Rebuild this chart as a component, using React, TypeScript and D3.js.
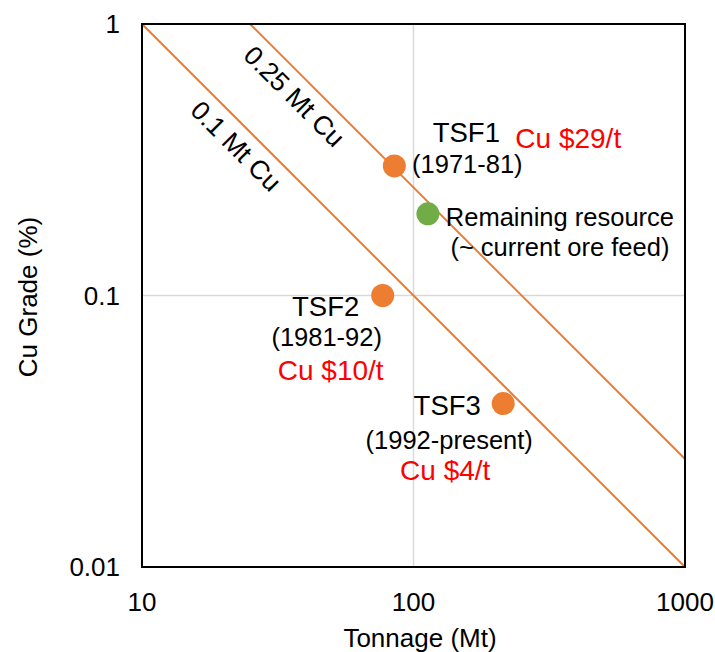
import React from "react";
import * as d3 from "d3";

const tsfNames = ["TSF1", "TSF2", "TSF3"];
const tsfTonnage = [85, 77, 214];
const tsfGrade = [0.3, 0.1, 0.04];
const tsfYears = ["(1971-81)", "(1981-92)", "(1992-present)"];
const tsfPrice = ["Cu $29/t", "Cu $10/t", "Cu $4/t"];

const remainingTonnage = [113];
const remainingGrade = [0.2];
const remainingLabel = ["Remaining resource", "(~ current ore feed)"];

const containedMtCu = [0.25, 0.1];
const containedLabels = ["0.25 Mt Cu", "0.1 Mt Cu"];
// tonnage (Mt) along each line where its label sits
const containedLabelTonnage = [41, 25];

const xTicks = [10, 100, 1000];
const yTicks = [0.01, 0.1, 1];
const xTickLabels = ["10", "100", "1000"];
const yTickLabels = ["0.01", "0.1", "1"];

const W = 715;
const H = 652;
const L = 142, R = 685, T = 24, B = 567;
const ORANGE = "#ED7D31";
const GREEN = "#70AD47";
const FONT = "'Liberation Sans', Arial, sans-serif";

// label layout (offsets from marker position)
const tsfLayout = [
  { name: [72, -24, "middle"], years: [73, 7, "middle"], price: [121, -18, "start"] },
  { name: [-57, 20, "middle"], years: [-56, 50, "middle"], price: [-52, 84, "middle"] },
  { name: [-56, 11, "middle"], years: [-54, 45, "middle"], price: [-58, 76, "middle"] },
];

export default function App() {
  const x = d3.scaleLog().domain([10, 1000]).range([L, R]);
  const y = d3.scaleLog().domain([0.01, 1]).range([B, T]);

  const line = d3
    .line<[number, number]>()
    .x((d) => x(d[0]))
    .y((d) => y(d[1]));

  return (
    <div style={{ position: "absolute", left: 0, top: 0 }}>
      <svg width={W} height={H} style={{ display: "block", fontFamily: FONT }}>
        <defs>
          <clipPath id="plotclip">
            <rect x={L} y={T} width={R - L} height={B - T} />
          </clipPath>
        </defs>
        <rect x={0} y={0} width={W} height={H} fill="#fff" />
        {/* gridlines */}
        <line x1={x(100)} x2={x(100)} y1={T} y2={B} stroke="#D9D9D9" strokeWidth={1.5} />
        <line x1={L} x2={R} y1={y(0.1)} y2={y(0.1)} stroke="#D9D9D9" strokeWidth={1.5} />
        {/* contained metal lines */}
        <g clipPath="url(#plotclip)">
          {containedMtCu.map((c) => {
            const t0 = c * 100; // tonnage at 1% grade
            const pts: [number, number][] = [
              [t0, 1],
              [1000, (c * 100) / 1000],
            ];
            return (
              <path key={c} d={line(pts) || ""} fill="none" stroke={ORANGE} strokeWidth={2} />
            );
          })}
        </g>
        {/* frame */}
        <rect x={L} y={T} width={R - L} height={B - T} fill="none" stroke="#000" strokeWidth={2} />
        {/* contained labels */}
        {containedMtCu.map((c, i) => {
          const tMid = containedLabelTonnage[i];
          const gMid = (c * 100) / tMid;
          const px = x(tMid);
          const py = y(gMid);
          const off = 20;
          const cx = px - off / Math.SQRT2;
          const cy = py + off / Math.SQRT2;
          return (
            <text
              key={c}
              x={0}
              y={0}
              transform={`translate(${cx},${cy}) rotate(45)`}
              textAnchor="middle"
              dominantBaseline="central"
              fontSize={26.5}
              fill="#000"
            >
              {containedLabels[i]}
            </text>
          );
        })}
        {/* markers */}
        {tsfNames.map((n, i) => (
          <circle key={n} cx={x(tsfTonnage[i])} cy={y(tsfGrade[i])} r={11.5} fill={ORANGE} />
        ))}
        {remainingTonnage.map((t, i) => (
          <circle key={"r" + i} cx={x(t)} cy={y(remainingGrade[i])} r={11.5} fill={GREEN} />
        ))}
        {/* tsf labels */}
        {tsfNames.map((n, i) => {
          const px = x(tsfTonnage[i]);
          const py = y(tsfGrade[i]);
          const lay = tsfLayout[i];
          return (
            <g key={"l" + n}>
              <text x={px + (lay.name[0] as number)} y={py + (lay.name[1] as number)} textAnchor={lay.name[2] as any} fontSize={27.5} fill="#000">
                {n}
              </text>
              <text x={px + (lay.years[0] as number)} y={py + (lay.years[1] as number)} textAnchor={lay.years[2] as any} fontSize={25.5} fill="#000">
                {tsfYears[i]}
              </text>
              <text x={px + (lay.price[0] as number)} y={py + (lay.price[1] as number)} textAnchor={lay.price[2] as any} fontSize={28} fill="#FF0000">
                {tsfPrice[i]}
              </text>
            </g>
          );
        })}
        {remainingTonnage.map((t, i) => {
          const px = x(t);
          const py = y(remainingGrade[i]);
          return (
            <g key={"rl" + i}>
              <text x={px + 132} y={py + 12} textAnchor="middle" fontSize={25.5} fill="#000">
                {remainingLabel[0]}
              </text>
              <text x={px + 132} y={py + 42} textAnchor="middle" fontSize={25.5} fill="#000">
                {remainingLabel[1]}
              </text>
            </g>
          );
        })}
        {/* axes ticks */}
        {xTicks.map((t, i) => (
          <text key={"xt" + t} x={x(t)} y={611} textAnchor="middle" fontSize={26} fill="#000">
            {xTickLabels[i]}
          </text>
        ))}
        {yTicks.map((t, i) => (
          <text key={"yt" + t} x={120} y={y(t) + 9} textAnchor="end" fontSize={26} fill="#000">
            {yTickLabels[i]}
          </text>
        ))}
        <text x={420} y={647} textAnchor="middle" fontSize={26} fill="#000">
          Tonnage (Mt)
        </text>
        <text transform={`translate(37,297) rotate(-90)`} textAnchor="middle" fontSize={26} fill="#000">
          Cu Grade (%)
        </text>
      </svg>
    </div>
  );
}
